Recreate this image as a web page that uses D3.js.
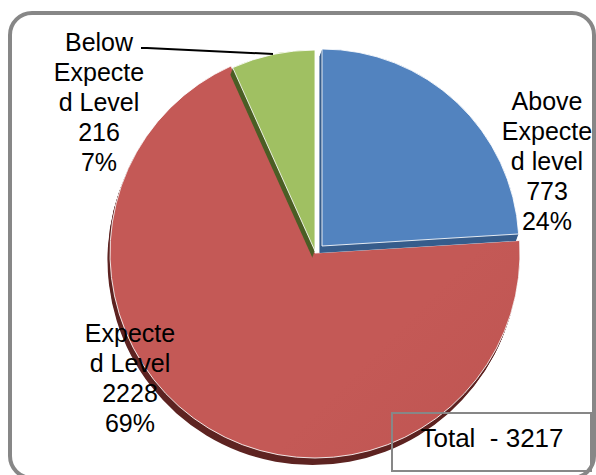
<!DOCTYPE html>
<html>
<head>
<meta charset="utf-8">
<script src="https://cdn.jsdelivr.net/npm/d3@7"></script>
<style>
  html, body { margin: 0; padding: 0; background: #fff; }
  svg { display: block; font-family: "Liberation Sans", Arial, sans-serif; }
</style>
</head>
<body>
<div id="chart"></div>
<script>
// chart data
const categories = ['Above Expected level', 'Expected Level', 'Below Expected Level'];
const values = [773, 2228, 216];
const labelLines = [['Above', 'Expecte', 'd level'], ['Expecte', 'd Level'], ['Below', 'Expecte', 'd Level']];
const totalLabel = 'Total  - ';

const width = 596;
const height = 475;

// per-slice look and placement (exploded slices)
const faceColors = [['#5283bf', '#4778b2'], ['#c45956', '#b14a47'], ['#a0c062', '#93b253']];
const sideColors = ['#375d8c', '#5e2422', '#4c5f26'];
const sliceGeom = [
    { cx: 322, cy: 246, r: 197 },
    { cx: 315, cy: 253, r: 205 },
    { cx: 315, cy: 251, r: 201 }
];
const labelPos = [
    { x: 547, y: 110 },
    { x: 130, y: 342 },
    { x: 99, y: 51 }
];
const depth = { dx: -2.5, dy: 7, steps: 7 };

const total = d3.sum(values);

const svg = d3.select('#chart').append('svg')
    .attr('width', width)
    .attr('height', height);

const defs = svg.append('defs');
faceColors.forEach((c, i) => {
    const g = sliceGeom[i];
    const grad = defs.append('linearGradient')
        .attr('id', `face${i}`)
        .attr('gradientUnits', 'userSpaceOnUse')
        .attr('x1', g.cx - g.r).attr('y1', g.cy - g.r)
        .attr('x2', g.cx + g.r).attr('y2', g.cy + g.r);
    grad.append('stop').attr('offset', '0%').attr('stop-color', c[0]);
    grad.append('stop').attr('offset', '100%').attr('stop-color', c[1]);
});

// outer frame
svg.append('rect')
    .attr('x', 10)
    .attr('y', 13)
    .attr('width', 584)
    .attr('height', 465)
    .attr('rx', 22)
    .attr('fill', '#fff')
    .attr('stroke', '#878787')
    .attr('stroke-width', 4);

const pie = d3.pie().sort(null).value(d => d)(values);

// draw red first so the others sit over it
const drawOrder = [1, 2, 0];

drawOrder.forEach(i => {
    const d = pie[i];
    const g = sliceGeom[i];
    const arc = d3.arc().innerRadius(0).outerRadius(g.r);
    const slice = svg.append('g').attr('class', 'slice');

    for (let s = depth.steps; s >= 1; s--) {
        const t = s / depth.steps;
        slice.append('path')
            .attr('d', arc(d))
            .attr('transform', `translate(${g.cx + depth.dx * t},${g.cy + depth.dy * t})`)
            .attr('fill', sideColors[i]);
    }

    slice.append('path')
        .attr('d', arc(d))
        .attr('transform', `translate(${g.cx},${g.cy})`)
        .attr('fill', `url(#face${i})`)
        .attr('stroke', 'rgba(255,255,255,0.85)')
        .attr('stroke-width', 1);
});

// leader line for the small slice
svg.append('polyline')
    .attr('points', '141,48 147,48 273,54')
    .attr('fill', 'none')
    .attr('stroke', '#000')
    .attr('stroke-width', 2);

// data labels
values.forEach((v, i) => {
    const lines = labelLines[i].concat([String(v), `${Math.round(v / total * 100)}%`]);
    const text = svg.append('text')
        .attr('text-anchor', 'middle')
        .attr('font-size', 25)
        .attr('fill', '#000');
    lines.forEach((line, k) => {
        text.append('tspan')
            .attr('x', labelPos[i].x)
            .attr('y', labelPos[i].y + k * 30)
            .text(line);
    });
});

// total box
svg.append('rect')
    .attr('x', 392)
    .attr('y', 413)
    .attr('width', 199)
    .attr('height', 58)
    .attr('fill', 'none')
    .attr('stroke', '#878787')
    .attr('stroke-width', 2);

svg.append('text')
    .attr('x', 492)
    .attr('y', 447)
    .attr('text-anchor', 'middle')
    .attr('font-size', 26)
    .attr('fill', '#000')
    .style('white-space', 'pre')
    .text(totalLabel + total);
</script>
</body>
</html>
